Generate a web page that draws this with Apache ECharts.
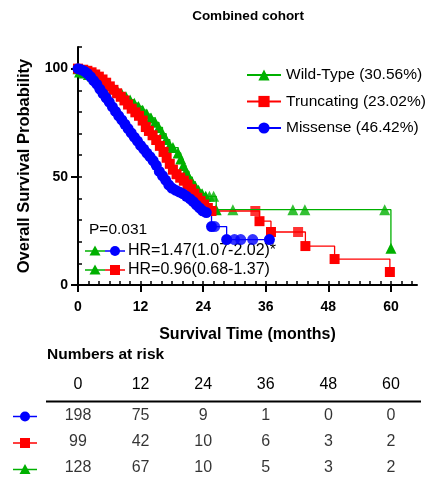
<!DOCTYPE html>
<html>
<head>
<meta charset="utf-8">
<script src="https://cdn.jsdelivr.net/npm/echarts@6/dist/echarts.min.js"></script>
<style>
  html, body { margin: 0; padding: 0; background: #fff; }
  #chart { width: 432px; height: 480px; }
</style>
</head>
<body>
<div id="chart"></div>
<script>
// tick labels
const majorX = [0, 12, 24, 36, 48, 60];
const minorX = [0, 2, 4, 6, 8, 10, 12, 14, 16, 18, 20, 22, 24, 26, 28, 30, 32, 34, 36, 38, 40, 42, 44, 46, 48, 50, 52, 54, 56, 58, 60, 62, 64];
const majorY = [0, 50, 100];
const minorY = [0, 10, 20, 30, 40, 50, 60, 70, 80, 90, 100, 110];

const groups = ['Wild-Type (30.56%)', 'Truncating (23.02%)', 'Missense (46.42%)'];

// KM curves: [months, survival %]
const wildTypeCurve = [[0,100],[0.3,98.5],[1.2,98],[2,97.3],[2.8,96.5],[3.6,95.5],[4.4,94.6],[5.2,93.6],[6,92.3],[6.8,91],[7.6,89.6],[8.4,88.3],[9.2,87],[10,85.5],[10.8,84],[11.6,82.5],[12.4,80.8],[13.2,79],[14,77.2],[14.8,75.2],[15.5,72.8],[16.2,70],[16.9,67.2],[17.6,64.5],[18.2,63.5],[19.2,61],[19.7,58.2],[20.2,55.2],[20.7,52.5],[21.3,49.8],[21.9,47.6],[22.5,45.6],[23.1,43.8],[23.8,42.2],[24.5,41],[26.5,34.8],[60,17]];
const truncatingCurve = [[0,100],[1,99.5],[1.8,99],[2.6,98.3],[3.3,97.3],[4,96.3],[4.7,95],[5.4,93.5],[6.1,91.8],[6.8,90.2],[7.5,88.6],[8.2,87],[8.9,85.3],[9.6,83.4],[10.3,81.5],[11,79.8],[11.7,78.2],[12.4,76],[13,73],[13.6,71.2],[14.3,69.2],[15,67],[15.7,64.3],[16.4,61.5],[17,58.8],[17.6,56],[18.2,53.3],[18.9,51.2],[19.6,49.6],[20.3,48.2],[21,46.5],[21.7,44.3],[22.3,42.2],[22.9,40.3],[23.5,38.8],[24.2,37.2],[24.9,35.6],[25.6,34.2],[34.8,29.5],[37,24.5],[43.6,18],[49.2,12],[59.8,6]];
const missenseCurve = [[0,100],[0.6,99.5],[1.2,98.8],[1.8,97.8],[2.4,96.3],[3,94.5],[3.6,92.8],[4.2,90.5],[4.8,88.5],[5.4,86.5],[6,84.5],[6.6,82.3],[7.2,80.2],[7.8,78.2],[8.4,76.3],[9,74.3],[9.6,72.3],[10.2,70.3],[10.8,68.3],[11.4,66.5],[12,64.5],[12.6,62.8],[13.2,61],[13.8,59.3],[14.4,57.5],[15,55.3],[15.6,52.5],[16.2,50.5],[16.8,48.5],[17.4,46.3],[18,44.8],[18.7,43.8],[19.4,43],[20.1,42.2],[20.8,41],[21.5,39.8],[22.1,38.5],[22.7,37],[23.3,35.6],[23.9,34.3],[24.6,33.5],[25.6,27],[28.5,21],[36.7,21]];

// extra censor marks on the flat tails
const wildTypeCensor = [[25.2,41],[26,41],[29.7,34.8],[41.2,34.8],[43.5,34.8],[58.8,34.8]];
const truncatingCensor = [[34,34.2],[42.2,24.5]];
const missenseCensor = [[26.2,27],[30,21],[31.2,21],[33.5,21]];

// numbers at risk
const riskRows = ['Missense', 'Truncating', 'Wild-Type'];
const riskMissense = [198, 75, 9, 1, 0, 0];
const riskTruncating = [99, 42, 10, 6, 3, 2];
const riskWildType = [128, 67, 10, 5, 3, 2];

const GREEN = '#00b000', RED = '#ff0000', BLUE = '#0000ff';
const FONT = '"Liberation Sans", Arial, sans-serif';

const myChart = echarts.init(document.getElementById('chart'));

function kmSeries(name, data, color, symbol, size) {
    return {
        name: name, type: 'line', step: 'end', data: data,
        xAxisIndex: 0, yAxisIndex: 0,
        symbol: symbol, symbolSize: size, showSymbol: true,
        lineStyle: {color: color, width: 1.3},
        itemStyle: {color: color},
        emphasis: {disabled: true}
    };
}
function censorSeries(data, color, symbol, size) {
    return {
        type: 'scatter', data: data, xAxisIndex: 0, yAxisIndex: 0,
        symbol: symbol, symbolSize: size, itemStyle: {color: color},
        emphasis: {disabled: true}
    };
}

let riskData = [];
[riskMissense, riskTruncating, riskWildType].forEach((row, r) => {
    row.forEach((n, i) => riskData.push([majorX[i], riskRows[r], n]));
});

// small legend-like icons for annotations / risk table
function icon(y, parts) {
    let els = [];
    parts.forEach(p => {
        els.push({type: 'line', shape: {x1: p.from, y1: y, x2: p.to, y2: y}, style: {stroke: p.color, lineWidth: 1.5}});
        if (p.mark === 'circle') els.push({type: 'circle', shape: {cx: p.at, cy: y, r: 5}, style: {fill: p.color}});
        if (p.mark === 'rect') els.push({type: 'rect', shape: {x: p.at - 5, y: y - 5, width: 10, height: 10}, style: {fill: p.color}});
        if (p.mark === 'triangle') els.push({type: 'polygon', shape: {points: [[p.at, y - 5.5], [p.at + 5.5, y + 4.5], [p.at - 5.5, y + 4.5]]}, style: {fill: p.color}});
    });
    return els;
}
function txt(text, x, y, size, weight, align) {
    return {type: 'text', style: {text: text, x: x, y: y, fontSize: size, fontWeight: weight, fontFamily: FONT, fill: '#000', textAlign: align || 'left', textVerticalAlign: 'middle'}};
}

let graphics = [
    txt('Combined cohort', 248, 16, 13.5, 'bold', 'center'),
    txt('P=0.031', 89, 230, 15.5, 'normal'),
    txt('HR=1.47(1.07-2.02)*', 128, 251, 16, 'normal'),
    txt('HR=0.96(0.68-1.37)', 128, 270, 16, 'normal'),
    txt('Numbers at risk', 47, 355, 15.5, 'bold'),
    {type: 'line', shape: {x1: 46, y1: 401.5, x2: 421, y2: 401.5}, style: {stroke: '#000', lineWidth: 2}}
];
graphics = graphics
    .concat(icon(251, [{from: 85, to: 105, color: GREEN, mark: 'triangle', at: 95}, {from: 105, to: 125, color: BLUE, mark: 'circle', at: 115}]))
    .concat(icon(270, [{from: 85, to: 105, color: GREEN, mark: 'triangle', at: 95}, {from: 105, to: 125, color: RED, mark: 'rect', at: 115}]))
    .concat(icon(416.5, [{from: 13, to: 37, color: BLUE, mark: 'circle', at: 25}]))
    .concat(icon(443, [{from: 13, to: 37, color: RED, mark: 'rect', at: 25}]))
    .concat(icon(469.5, [{from: 13, to: 37, color: GREEN, mark: 'triangle', at: 25}]));

const axisFont = {fontSize: 14, fontWeight: 'bold', color: '#000', fontFamily: FONT};
const blackLine = {lineStyle: {color: '#000', width: 2}};

myChart.setOption({
    backgroundColor: '#fff',
    animation: false,
    textStyle: {fontFamily: FONT},
    legend: {
        data: groups, orient: 'vertical', left: 246, top: 67, padding: 0,
        itemWidth: 34, itemHeight: 14, itemGap: 10.5,
        textStyle: {fontSize: 15.5, color: '#000', fontFamily: FONT}
    },
    grid: [
        {left: 78, right: 15, top: 47, bottom: 195},
        {left: 78, right: 15, top: 403, height: 80}
    ],
    xAxis: [
        {
            type: 'value', gridIndex: 0, min: 0, max: 65,
            axisLine: blackLine,
            axisTick: {customValues: majorX, length: 7, lineStyle: {color: '#000', width: 2}},
            axisLabel: {customValues: majorX, margin: 15, ...axisFont},
            splitLine: {show: false},
            name: 'Survival Time (months)', nameLocation: 'middle', nameGap: 42,
            nameTextStyle: {fontSize: 16, fontWeight: 'bold', color: '#000', fontFamily: FONT}
        },
        {
            type: 'value', gridIndex: 0, min: 0, max: 65,
            axisLine: {show: false},
            axisTick: {customValues: minorX, length: 4, lineStyle: {color: '#000', width: 1.5}},
            axisLabel: {show: false}, splitLine: {show: false}
        },
        {
            type: 'value', gridIndex: 1, min: 0, max: 65, position: 'top',
            axisLine: {show: false}, axisTick: {show: false}, splitLine: {show: false},
            axisLabel: {customValues: majorX, margin: 10, fontSize: 16, color: '#000', fontFamily: FONT}
        }
    ],
    yAxis: [
        {
            type: 'value', gridIndex: 0, min: 0, max: 110,
            axisLine: {show: true, ...blackLine},
            axisTick: {show: true, customValues: majorY, length: 7, lineStyle: {color: '#000', width: 2}},
            axisLabel: {customValues: majorY, margin: 10, ...axisFont},
            splitLine: {show: false},
            name: 'Overall Survival Probability', nameLocation: 'middle', nameGap: 45,
            nameTextStyle: {fontSize: 16.5, fontWeight: 'bold', color: '#000', fontFamily: FONT}
        },
        {
            type: 'value', gridIndex: 0, min: 0, max: 110,
            axisLine: {show: false},
            axisTick: {show: true, customValues: minorY, length: 4, lineStyle: {color: '#000', width: 1.5}},
            axisLabel: {show: false}, splitLine: {show: false}
        },
        {
            type: 'category', gridIndex: 1, data: riskRows, inverse: true, show: false
        }
    ],
    series: [
        kmSeries(groups[0], wildTypeCurve, GREEN, 'triangle', 11),
        censorSeries(wildTypeCensor, GREEN, 'triangle', 11),
        kmSeries(groups[1], truncatingCurve, RED, 'rect', 10),
        censorSeries(truncatingCensor, RED, 'rect', 10),
        kmSeries(groups[2], missenseCurve, BLUE, 'circle', 11),
        censorSeries(missenseCensor, BLUE, 'circle', 11),
        {
            type: 'scatter', xAxisIndex: 2, yAxisIndex: 2, data: riskData,
            symbol: 'rect', symbolSize: 1, itemStyle: {color: 'transparent'},
            label: {show: true, position: 'inside', formatter: p => p.value[2], fontSize: 16, color: '#000', fontFamily: FONT},
            emphasis: {disabled: true}
        }
    ],
    graphic: graphics
});

window.addEventListener('resize', () => {
    myChart.resize()
})
</script>
</body>
</html>
